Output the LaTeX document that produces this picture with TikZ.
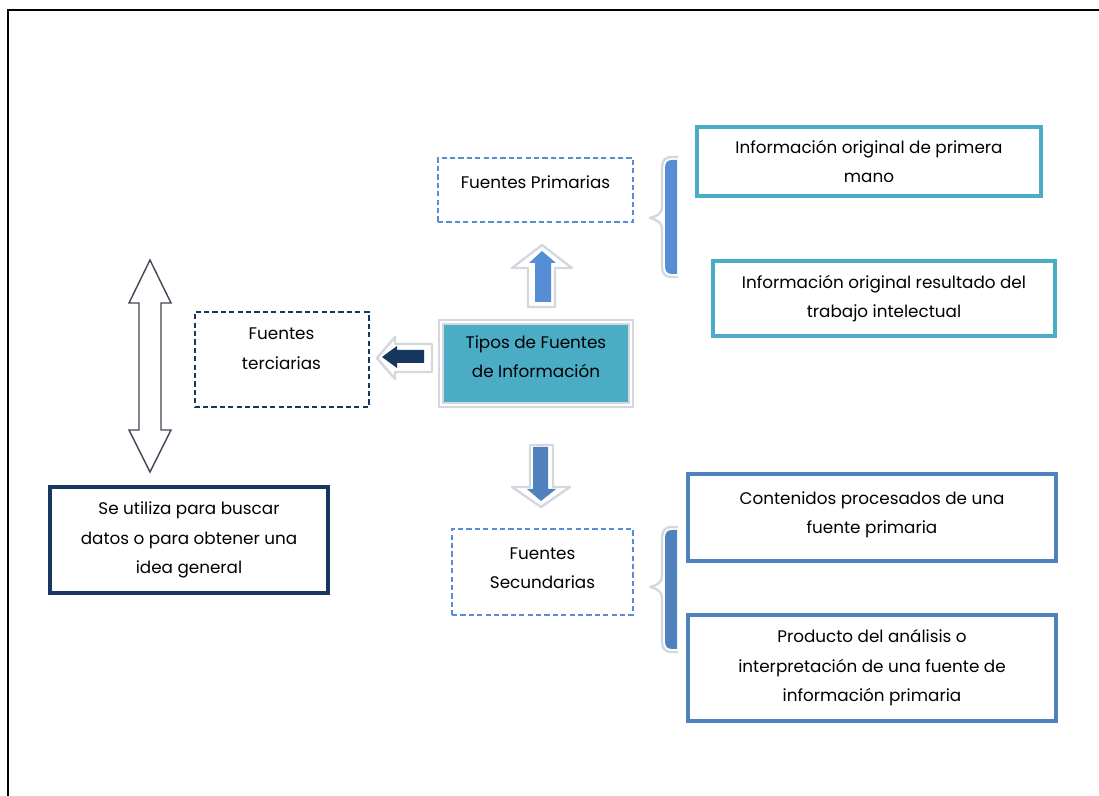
\documentclass[tikz,border=0pt]{standalone}
\usepackage{fontspec}
\setmainfont{Poppins}
\definecolor{tealbox}{HTML}{4BACC6}
\definecolor{bluebox}{HTML}{4F81BD}
\definecolor{lightblue}{HTML}{558ED5}
\definecolor{navy}{HTML}{17375E}
\definecolor{arrowgray}{HTML}{3F4756}
\definecolor{shade}{HTML}{D4D8DE}
\begin{document}
\begin{tikzpicture}[x=0.5pt,y=-0.5pt,
  every node/.style={inner sep=0pt, align=center, text=black,
    font=\fontsize{8.4}{14.8}\selectfont},
  dashbox/.style={draw=#1, line width=1pt, dash pattern=on 2.6pt off 1.6pt},
  solidbox/.style={draw=#1, line width=2pt},
  shadowline/.style={draw=shade, line width=1.2pt, fill=white, line join=round}]
\useasboundingbox (0,0) rectangle (1099,796);
\draw [black, line width=1pt] (8,796) -- (8,10) -- (1099,10);
\node (prim) [dashbox=lightblue, minimum width=97.5pt, minimum height=32pt, text depth=8pt] at (535.5,190) {Fuentes Primarias};
\node (tipos) [fill=tealbox, draw=shade, double=white, double distance=1.4pt, line width=0.6pt, minimum width=95pt, minimum height=41.5pt, text depth=7pt] at (536,363.5) {Tipos de Fuentes\\de Información};
\node (terc) [dashbox=navy, minimum width=87pt, minimum height=47.5pt, text depth=11pt] at (281.5,359.5) {Fuentes\\terciarias};
\node (secu) [dashbox=lightblue, minimum width=90.5pt, minimum height=43pt, text depth=4pt] at (542.5,572) {Fuentes\\Secundarias};
\node (uso) [solidbox=navy, minimum width=139pt, minimum height=53pt] at (189,540) {Se utiliza para buscar\\datos o para obtener una\\idea general};
\node (info1) [solidbox=tealbox, minimum width=172pt, minimum height=34.5pt] at (869,161.5) {Información original de primera\\mano};
\node (info2) [solidbox=tealbox, minimum width=171pt, minimum height=37.5pt] at (884,298.5) {Información original resultado del\\trabajo intelectual};
\node (cont) [solidbox=bluebox, minimum width=184pt, minimum height=43.5pt, text depth=5pt] at (872,517.5) {Contenidos procesados de una\\fuente primaria};
\node (prod) [solidbox=bluebox, minimum width=184pt, minimum height=53pt] at (872,668) {Producto del análisis o\\interpretación de una fuente de\\información primaria};
\draw [shadowline] (542,245) -- (572,268) -- (555,268) -- (555,307) -- (528,307) -- (528,268) -- (512,268) -- cycle;
\fill [lightblue] (542,251) -- (556,263) -- (551,263) -- (551,302) -- (535,302) -- (535,263) -- (529,263) -- cycle;
\draw [shadowline] (541,507) -- (570,487) -- (553,487) -- (553,445) -- (530,445) -- (530,487) -- (512,487) -- cycle;
\fill [bluebox] (541,501) -- (556,489) -- (548,489) -- (548,447) -- (533,447) -- (533,489) -- (527,489) -- cycle;
\draw [shadowline] (377,358) -- (395,337) -- (395,344) -- (432,344) -- (432,372) -- (395,372) -- (395,379) -- cycle;
\fill [navy] (382,357) -- (397,346) -- (397,350) -- (424,350) -- (424,363) -- (397,363) -- (397,368) -- cycle;
\draw [arrowgray, line width=0.7pt, fill=white, line join=miter] (150,260) -- (171,303) -- (161,303) -- (161,430) -- (171,430) -- (150,472) -- (129,430) -- (139,430) -- (139,303) -- (129,303) -- cycle;
\draw [shadowline] (678,157) -- (671,157) .. controls (665,157) and (662,161) .. (662,168) -- (662,207) .. controls (662,213) and (658,216) .. (650,218) .. controls (658,220) and (662,223) .. (662,229) -- (662,267) .. controls (662,273) and (665,277) .. (671,277) -- (678,277);
\fill [lightblue] (677,160) -- (672,160) .. controls (667,160) and (665,163) .. (665,168) -- (665,266) .. controls (665,271) and (667,274) .. (672,274) -- (677,274) -- cycle;
\draw [shadowline] (678,527) -- (671,527) .. controls (665,527) and (662,531) .. (662,538) -- (662,576) .. controls (662,582) and (658,585) .. (650,587) .. controls (658,589) and (662,592) .. (662,598) -- (662,642) .. controls (662,648) and (665,652) .. (671,652) -- (678,652);
\fill [bluebox] (677,530) -- (672,530) .. controls (667,530) and (665,533) .. (665,538) -- (665,641) .. controls (665,646) and (667,649) .. (672,649) -- (677,649) -- cycle;
\end{tikzpicture}
\end{document}
